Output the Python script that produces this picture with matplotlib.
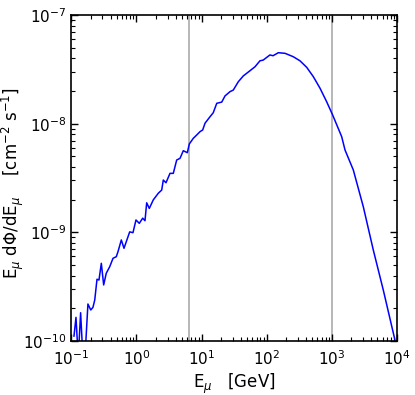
import matplotlib
matplotlib.use("Agg")
import matplotlib.pyplot as plt
from matplotlib.ticker import LogLocator

# Muon energy (GeV) and flux E dPhi/dE (cm^-2 s^-1)
energy = [0.110, 0.118, 0.128, 0.139, 0.151, 0.162, 0.180, 0.199, 0.215, 0.229,
          0.248, 0.266, 0.289, 0.314, 0.344, 0.389, 0.437, 0.491, 0.521, 0.586,
          0.644, 0.788, 0.885, 0.984, 1.106, 1.248, 1.353, 1.437, 1.575, 1.815,
          2.167, 2.443, 2.585, 2.843, 3.275, 3.68, 4.15, 4.67, 5.24, 6.04,
          6.48, 7.46, 8.41, 9.46, 10.4, 11.3, 13.5, 15.1, 17.1, 20.4,
          22.9, 27.3, 30.7, 36.6, 43.7, 55.3, 66.1, 78.8, 88.5, 112,
          125, 151, 191, 222, 256, 324, 411, 519, 658, 833,
          1030, 1416, 1592, 2135, 3040, 4330, 6165, 9310, 10000]
flux = [1.11e-10, 1.65e-10, 7e-11, 1.82e-10, 7e-11, 7e-11, 2.19e-10, 1.93e-10, 2.04e-10, 2.38e-10,
        3.70e-10, 3.64e-10, 5.19e-10, 3.28e-10, 4.20e-10, 4.83e-10, 5.77e-10, 5.97e-10, 6.64e-10, 8.51e-10,
        7.13e-10, 1.01e-9, 9.93e-10, 1.30e-9, 1.21e-9, 1.35e-9, 1.28e-9, 1.87e-9, 1.66e-9, 1.99e-9,
        2.29e-9, 2.45e-9, 3.03e-9, 2.86e-9, 3.49e-9, 3.49e-9, 4.63e-9, 4.80e-9, 5.64e-9, 5.41e-9,
        6.50e-9, 7.33e-9, 7.86e-9, 8.44e-9, 8.75e-9, 1.01e-8, 1.16e-8, 1.26e-8, 1.54e-8, 1.58e-8,
        1.80e-8, 1.97e-8, 2.04e-8, 2.43e-8, 2.75e-8, 3.07e-8, 3.34e-8, 3.79e-8, 3.85e-8, 4.29e-8,
        4.22e-8, 4.50e-8, 4.44e-8, 4.28e-8, 4.13e-8, 3.79e-8, 3.30e-8, 2.71e-8, 2.12e-8, 1.59e-8,
        1.20e-8, 7.59e-9, 5.73e-9, 3.75e-9, 1.72e-9, 6.87e-10, 2.94e-10, 1.02e-10, 9.0e-11]
vlines = [6.3, 1000]

fig = plt.figure(figsize=(4.15, 3.95), dpi=100)
ax = fig.add_axes([0.1718, 0.1367, 0.9566 - 0.1718, 0.962 - 0.1367])

for v in vlines:
    ax.axvline(v, color='#aaaaaa', lw=1.2, zorder=1)
ax.plot(energy, flux, color='blue', lw=1.1, zorder=2)

ax.set_xscale('log')
ax.set_yscale('log')
ax.set_xlim(0.1, 1e4)
ax.set_ylim(1e-10, 1e-7)
ax.xaxis.set_major_locator(LogLocator(base=10, numticks=20))
ax.yaxis.set_major_locator(LogLocator(base=10, numticks=20))
ax.xaxis.set_minor_locator(LogLocator(base=10, subs=range(2, 10), numticks=20))
ax.yaxis.set_minor_locator(LogLocator(base=10, subs=range(2, 10), numticks=20))

ax.tick_params(which='both', direction='in', top=True, right=True, labelsize=11)
ax.tick_params(which='major', length=5, width=1)
ax.tick_params(which='minor', length=3, width=0.8)
ax.tick_params(axis='x', which='major', pad=6)
for s in ax.spines.values():
    s.set_linewidth(1.2)

ax.set_xlabel(r'E$_\mu$   [GeV]', fontsize=12)
ax.xaxis.set_label_coords(0.5, -0.095)
ax.set_ylabel(r'E$_\mu$ d$\Phi$/dE$_\mu$    [cm$^{-2}$ s$^{-1}$]', fontsize=12)
ax.yaxis.set_label_coords(-0.139, 0.486)

fig.savefig('out.png', dpi=100)
